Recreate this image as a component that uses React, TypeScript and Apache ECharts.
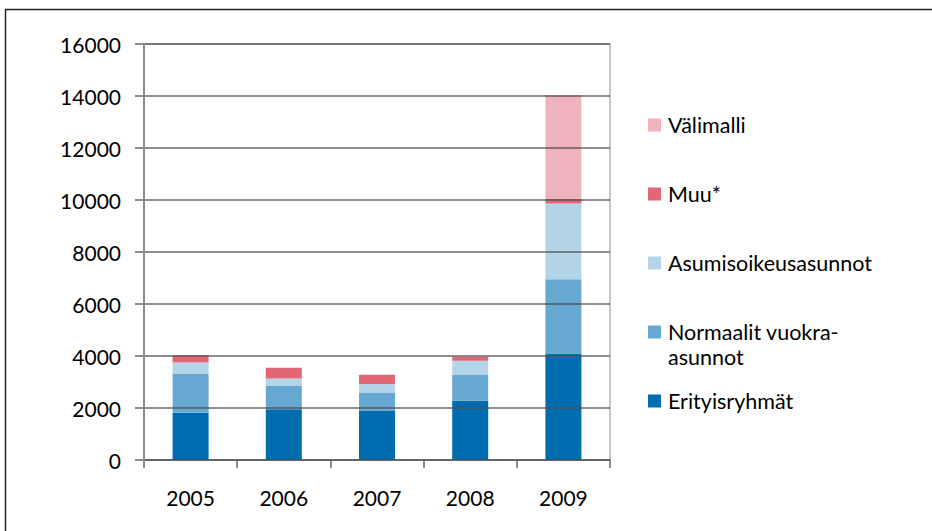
import React, { useEffect, useRef } from "react";
import * as echarts from "echarts";

const years = ["2005", "2006", "2007", "2008", "2009"];
const erityisryhmat = [1820, 1950, 1885, 2280, 4100];
const normaalit = [1510, 900, 690, 990, 2850];
const asumisoikeus = [420, 280, 350, 550, 2920];
const muu = [280, 420, 350, 150, 165];
const valimalli = [0, 0, 0, 0, 4000];

const seriesNames = [
  "Erityisryhmät",
  "Normaalit vuokra-asunnot",
  "Asumisoikeusasunnot",
  "Muu*",
  "Välimalli",
];
const seriesData = [erityisryhmat, normaalit, asumisoikeus, muu, valimalli];
const seriesColors = ["#006cb0", "#66a8d2", "#b4d4e8", "#e36676", "#efb3bb"];

const FONT = "Lato, 'Open Sans', sans-serif";

export default function App() {
  const ref = useRef<HTMLDivElement>(null);
  useEffect(() => {
    if (!ref.current) return;
    const chart = echarts.init(ref.current, undefined, { renderer: "svg" });
    chart.setOption({
      animation: false,
      backgroundColor: "#ffffff",
      textStyle: { fontFamily: FONT },
      grid: {
        left: 144,
        right: 322,
        top: 44,
        bottom: 71,
        show: true,
        borderColor: "#8c8c8c",
        borderWidth: 1,
      },
      legend: {
        orient: "vertical",
        left: 648,
        top: 114,
        padding: 0,
        itemWidth: 13,
        itemHeight: 13,
        itemGap: 47,
        icon: "rect",
        selectedMode: false,
        data: [...seriesNames].reverse(),
        formatter: (name: string) =>
          name === "Normaalit vuokra-asunnot" ? "Normaalit vuokra-" : name,
        textStyle: {
          fontFamily: FONT,
          fontSize: 21.5,
          color: "#000",
          lineHeight: 22,
          padding: [0, 0, 0, 2],
        },
      },
      graphic: [
        {
          type: "text",
          left: 668,
          top: 346,
          style: {
            text: "asunnot",
            fontFamily: FONT,
            fontSize: 21.5,
            fill: "#000",
          },
        },
        {
          type: "line",
          shape: { x1: 5, y1: 9.5, x2: 932, y2: 9.5 },
          style: { stroke: "#222", lineWidth: 1.5 },
        },
        {
          type: "line",
          shape: { x1: 5.5, y1: 9, x2: 5.5, y2: 531 },
          style: { stroke: "#222", lineWidth: 1.5 },
        },
      ],
      xAxis: {
        type: "category",
        data: years,
        axisLine: { lineStyle: { color: "#8c8c8c", width: 2 } },
        axisTick: {
          show: true,
          length: 8,
          lineStyle: { color: "#8c8c8c", width: 2 },
        },
        axisLabel: {
          color: "#000",
          fontFamily: FONT,
          fontSize: 21,
          margin: 27,
        },
      },
      yAxis: {
        type: "value",
        min: 0,
        max: 16000,
        interval: 2000,
        z: 5,
        axisLine: { show: true, lineStyle: { color: "#8c8c8c", width: 2 } },
        axisTick: {
          show: true,
          length: 9,
          lineStyle: { color: "#8c8c8c", width: 2 },
        },
        splitLine: {
          show: true,
          lineStyle: { color: "rgba(80,80,80,0.65)", width: 2 },
        },
        axisLabel: {
          color: "#000",
          fontFamily: FONT,
          fontSize: 21,
          margin: 23,
          formatter: (v: number) => String(v),
        },
      },
      series: seriesNames.map((name, i) => ({
        name,
        type: "bar",
        stack: "total",
        barWidth: 36,
        data: seriesData[i],
        itemStyle: { color: seriesColors[i] },
      })),
    });
    return () => chart.dispose();
  }, []);
  return (
    <div
      ref={ref}
      style={{ position: "fixed", left: 0, top: 0, width: 932, height: 531 }}
    />
  );
}
